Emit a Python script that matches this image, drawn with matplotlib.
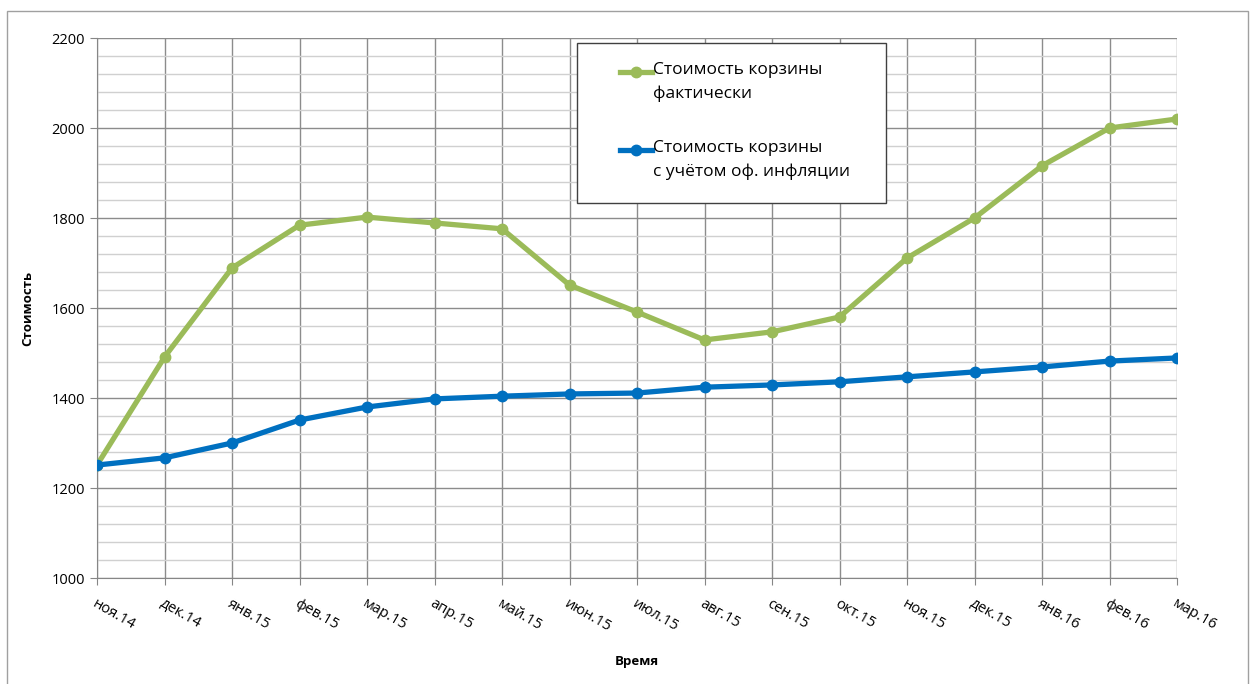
import matplotlib.pyplot as plt
from matplotlib.lines import Line2D
from matplotlib.patches import Rectangle
from matplotlib.ticker import MultipleLocator

plt.rcParams['font.family'] = ['Open Sans', 'DejaVu Sans']

months = ["ноя.14", "дек.14", "янв.15", "фев.15", "мар.15", "апр.15", "май.15",
          "июн.15", "июл.15", "авг.15", "сен.15", "окт.15", "ноя.15", "дек.15",
          "янв.16", "фев.16", "мар.16"]
actual = [1251, 1491, 1689, 1784, 1802, 1789, 1776, 1651, 1591, 1529, 1547,
          1580, 1711, 1800, 1916, 2000, 2020]
official = [1251, 1267, 1300, 1351, 1380, 1398, 1404, 1409, 1411, 1424, 1429,
            1436, 1447, 1458, 1469, 1482, 1489]

green = "#9BBB59"
blue = "#0070C0"

fig = plt.figure(figsize=(12.52, 6.84), dpi=100)
ax = fig.add_axes([97 / 1252, 1 - 578 / 684, 1080 / 1252, 540 / 684])

x = list(range(len(months)))
ax.plot(x, actual, color=green, lw=3.8, marker="o", ms=7.5, zorder=3,
        solid_capstyle="round")
ax.plot(x, official, color=blue, lw=3.8, marker="o", ms=7.5, zorder=4,
        solid_capstyle="round")

ax.set_xlim(0, len(months) - 1)
ax.set_ylim(1000, 2200)
ax.yaxis.set_major_locator(MultipleLocator(200))
ax.yaxis.set_minor_locator(MultipleLocator(40))
ax.set_xticks(x)
ax.set_xticklabels(months, rotation=-30, ha="left", va="top",
                   rotation_mode="anchor", fontsize=10.5)
ax.tick_params(axis="x", length=5, color="#868686", pad=8)
ax.tick_params(axis="y", which="major", length=5, color="#868686", labelsize=10.5)
ax.tick_params(axis="y", which="minor", length=0)

ax.grid(True, which="major", axis="both", color="#8C8C8C", lw=1)
ax.grid(True, which="minor", axis="y", color="#D0D0D0", lw=1)
ax.set_axisbelow(True)
for side in ["top", "right"]:
    ax.spines[side].set_visible(False)
for side in ["left", "bottom"]:
    ax.spines[side].set_color("#868686")

fig.text(28 / 1252, 1 - 308 / 684, "Стоимость", fontsize=9.5, fontweight="bold",
         ha="center", va="center", rotation=90)
fig.text(637 / 1252, 1 - 661 / 684, "Время", fontsize=9.5, fontweight="bold",
         ha="center", va="center")

# legend box drawn by hand so the markers line up with the first text line
fig.add_artist(Rectangle((577 / 1252, 1 - 203 / 684), 309 / 1252, 160 / 684,
                         transform=fig.transFigure, fill=True, facecolor="white",
                         edgecolor="#404040", lw=1, zorder=5))
entries = [(green, "Стоимость корзины\nфактически", 72),
           (blue, "Стоимость корзины\nс учётом оф. инфляции", 150)]
for color, label, ypix in entries:
    yf = 1 - ypix / 684
    fig.add_artist(Line2D([620 / 1252, 652 / 1252], [yf, yf], color=color, lw=3.8,
                          transform=fig.transFigure, zorder=6))
    fig.add_artist(Line2D([636 / 1252], [yf], color=color, marker="o", ms=7.5,
                          transform=fig.transFigure, zorder=6))
    fig.text(653 / 1252, yf + 10 / 684, label, fontsize=12.5, ha="left", va="top",
             linespacing=1.6, zorder=7)

# outer chart border
fig.add_artist(Rectangle((7 / 1252, -0.01), 1241 / 1252, 1 - 11 / 684 + 0.01,
                         transform=fig.transFigure, fill=False,
                         edgecolor="#A0A0A0", lw=1))

fig.savefig("out.png", dpi=100)
